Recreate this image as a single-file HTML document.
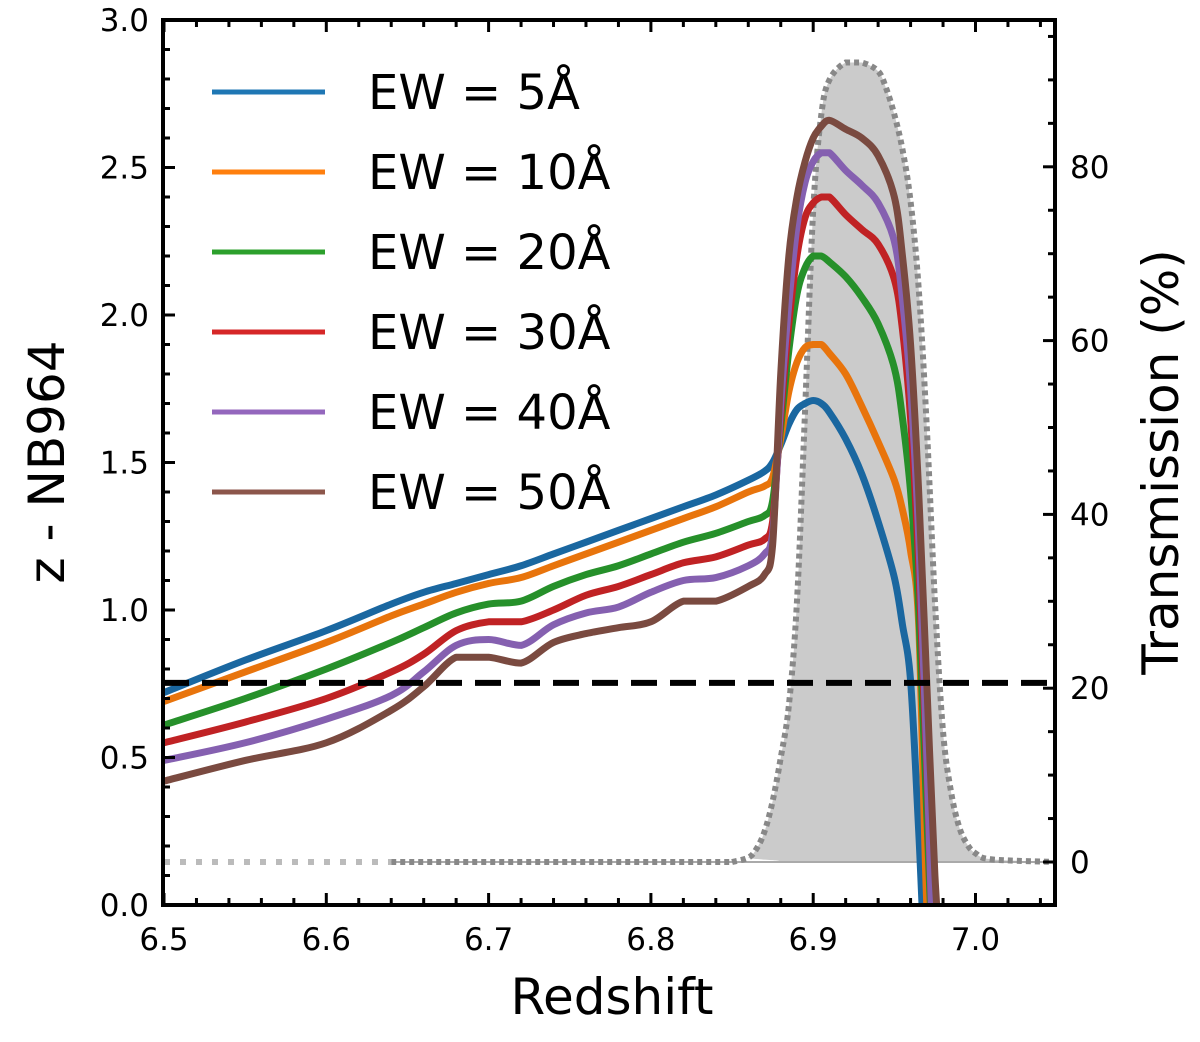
<!DOCTYPE html>
<html><head><meta charset="utf-8"><style>
body{margin:0;background:#fff}
svg text{font-family:"DejaVu Sans","Liberation Sans",sans-serif}
</style></head><body>
<svg id="c" width="1200" height="1037" xmlns="http://www.w3.org/2000/svg"></svg>
<script>
const zs=[6.50,6.55,6.60,6.64,6.66,6.68,6.70,6.72,6.74,6.76,6.78,6.80,6.82,6.84,6.86,6.87,6.875,6.88,6.885,6.89,6.895,6.90,6.905,6.91,6.92,6.93,6.94,6.95,6.955,6.96,6.965,6.97,6.975,6.98];
const ew5=[0.72,0.83,0.93,1.02,1.06,1.09,1.12,1.15,1.19,1.23,1.27,1.31,1.35,1.39,1.44,1.47,1.50,1.56,1.63,1.68,1.70,1.71,1.70,1.67,1.58,1.46,1.30,1.11,0.95,0.76,0.25,-0.3,-0.3,-0.3];
const ew10=[0.69,0.79,0.89,0.98,1.02,1.06,1.09,1.11,1.15,1.19,1.23,1.27,1.31,1.35,1.40,1.42,1.45,1.58,1.74,1.84,1.89,1.90,1.90,1.87,1.80,1.69,1.57,1.44,1.34,1.20,0.95,0.0,-0.3,-0.3];
const ew20=[0.61,0.70,0.80,0.89,0.94,0.99,1.02,1.03,1.08,1.12,1.15,1.19,1.23,1.26,1.30,1.32,1.37,1.62,1.88,2.07,2.16,2.20,2.20,2.18,2.13,2.06,1.97,1.82,1.65,1.40,1.0,0.3,-0.3,-0.3];
const ew30=[0.55,0.62,0.70,0.79,0.85,0.93,0.96,0.96,1.00,1.05,1.08,1.12,1.16,1.18,1.22,1.24,1.30,1.66,1.97,2.20,2.33,2.38,2.40,2.40,2.34,2.29,2.24,2.12,1.95,1.65,1.15,0.45,-0.3,-0.3];
const ew40=[0.49,0.55,0.63,0.71,0.79,0.88,0.90,0.88,0.95,0.99,1.01,1.06,1.10,1.11,1.15,1.19,1.26,1.70,2.04,2.30,2.45,2.52,2.55,2.55,2.49,2.44,2.38,2.25,2.05,1.75,1.25,0.5,-0.3,-0.3];
const ew50=[0.42,0.49,0.55,0.66,0.74,0.84,0.84,0.82,0.89,0.92,0.94,0.96,1.03,1.03,1.08,1.12,1.22,1.80,2.20,2.40,2.52,2.60,2.64,2.66,2.63,2.60,2.54,2.40,2.20,1.90,1.40,0.75,0.1,-0.3];
const labels=["EW = 5Å","EW = 10Å","EW = 20Å","EW = 30Å","EW = 40Å","EW = 50Å"];
const tz=[6.5,6.85,6.86,6.865,6.87,6.875,6.88,6.885,6.89,6.895,6.90,6.905,6.91,6.92,6.93,6.94,6.945,6.95,6.955,6.96,6.965,6.97,6.975,6.98,6.985,6.99,6.995,7.0,7.01,7.05];
const tv=[0,0,0.5,1.5,3.5,7,12,18,30,52,75,86,90,92,92,91,89,86,82,76,66,50,30,15,8,4,2,1,0.3,0];
const xTicks=[6.5,6.6,6.7,6.8,6.9,7.0];
const yTicks=[0,0.5,1.0,1.5,2.0,2.5,3.0];
const rTicks=[0,20,40,60,80];
const dashY=0.753;

const L=163,R=1055,T=20,B=905;
const X=z=>164+(z-6.5)*1623;
const Y=v=>905-v*295;
const YR=p=>862-p*8.69;
const s=document.getElementById('c');
const NS='http://www.w3.org/2000/svg';
function mk(t,a,p){const e=document.createElementNS(NS,t);for(const k in a)e.setAttribute(k,a[k]);(p||s).appendChild(e);return e;}
const cl=(v,a,b)=>Math.max(Math.min(a,b),Math.min(Math.max(a,b),v));
function smooth(pts){let d='M'+pts[0][0]+','+pts[0][1];for(let i=0;i<pts.length-1;i++){const p0=pts[i-1]||pts[i],p1=pts[i],p2=pts[i+1],p3=pts[i+2]||p2;
 const c1=[p1[0]+(p2[0]-p0[0])/6,cl(p1[1]+(p2[1]-p0[1])/6,p1[1],p2[1])],c2=[p2[0]-(p3[0]-p1[0])/6,cl(p2[1]-(p3[1]-p1[1])/6,p1[1],p2[1])];
 d+=' C'+c1[0]+','+c1[1]+' '+c2[0]+','+c2[1]+' '+p2[0]+','+p2[1];}return d;}
const defs=mk('defs',{});const cp=mk('clipPath',{id:'cp'},defs);mk('rect',{x:L,y:T,width:R-L,height:B-T},cp);
const g=mk('g',{'clip-path':'url(#cp)'});

const tp=tz.map((z,i)=>[X(z),YR(tv[i])]);
const td=smooth(tp);
const fill=mk('path',{d:td+' L'+X(7.05)+','+YR(0)+' L'+X(6.5)+','+YR(0)+'Z',fill:'#cbcbcb',stroke:'none'},g);

const base=mk('line',{x1:X(6.64),x2:R,y1:YR(0),y2:YR(0),stroke:'#aaa','stroke-width':2},g);

const tl=mk('path',{d:smooth(tp.filter((p,i)=>tz[i]>=6.85)),fill:'none',stroke:'#888','stroke-width':6,'stroke-dasharray':'5,4'},g);

const tl3=mk('line',{x1:X(6.64),x2:X(6.85),y1:YR(0),y2:YR(0),stroke:'#888','stroke-width':6,'stroke-dasharray':'5,4'},g);

const tl2=mk('line',{x1:X(6.5),x2:X(6.64),y1:YR(0),y2:YR(0),stroke:'#bbb','stroke-width':6,'stroke-dasharray':'6,10'},g);

const cols=['#1f77b4','#ff7f0e','#2ca02c','#d62728','#9467bd','#8c564b'];
const mids=['#1a67a0','#e8740c','#26902a','#c02224','#8560b0','#7a4a40'];
[ew5,ew10,ew20,ew30,ew40,ew50].forEach((arr,k)=>{
 const p=smooth(zs.map((z,i)=>[X(z),Y(arr[i])]));
 const e=mk('path',{d:p,fill:'none',stroke:mids[k],'stroke-width':7,'stroke-linejoin':'round'},g);
 
});
const dl=mk('line',{x1:L,x2:R,y1:Y(dashY),y2:Y(dashY),stroke:'#000','stroke-width':6,'stroke-dasharray':'26,13'},g);

const fr=mk('rect',{x:L,y:T,width:R-L,height:B-T,fill:'none',stroke:'#000','stroke-width':4});

function tick(x1,y1,x2,y2){mk('line',{x1,y1,x2,y2,stroke:'#000','stroke-width':3});}
for(let i=0;i<=27;i++){const z=6.5+i*0.02;const x=X(z);if(x>R)break;const maj=i%5==0;const l=maj?12:7;tick(x,B,x,B-l);tick(x,T,x,T+l);}
for(let v=0;v<=3.001;v+=0.1){const y=Y(v);const maj=Math.abs(v*2-Math.round(v*2))<1e-6;tick(L,y,L+(maj?12:7),y);}
for(let p=-5;p<=95;p+=5){const y=YR(p);if(y<T||y>B)continue;tick(R,y,R-(p%20==0?12:7),y);}
xTicks.forEach(v=>{const t=mk('text',{x:X(v),y:950,'font-size':31,'text-anchor':'middle'});t.textContent=v.toFixed(1);});
yTicks.forEach(v=>{const t=mk('text',{x:149,y:Y(v)+11,'font-size':31,'text-anchor':'end'});t.textContent=v.toFixed(1);});
rTicks.forEach(v=>{const t=mk('text',{x:1070,y:YR(v)+11,'font-size':31});t.textContent=v;});
let t=mk('text',{x:612,y:1014,'font-size':50,'text-anchor':'middle'});t.textContent='Redshift';
t=mk('text',{x:0,y:0,'font-size':50,'text-anchor':'middle',transform:'translate(64,462) rotate(-90)'});t.textContent='z - NB964';
t=mk('text',{x:0,y:0,'font-size':50,'text-anchor':'middle',transform:'translate(1178,462) rotate(-90)'});t.textContent='Transmission (%)';
labels.forEach((lb,k)=>{const y=92+k*80;
 const ln=mk('line',{x1:212,x2:325,y1:y,y2:y,stroke:cols[k],'stroke-width':5});
 const tx=mk('text',{x:368,y:y+17,'font-size':48});tx.textContent=lb;});
</script>
</body></html>
